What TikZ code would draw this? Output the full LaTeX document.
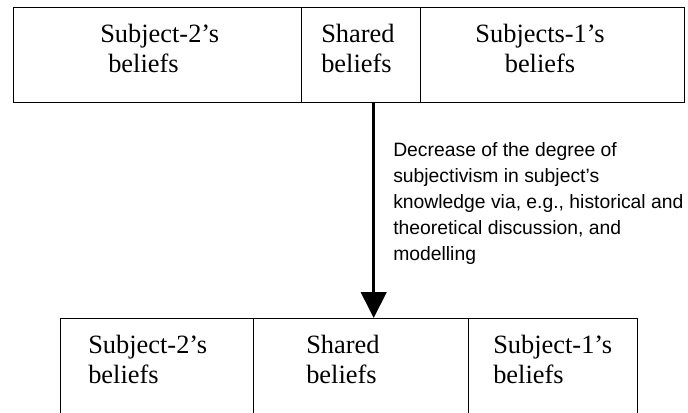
\documentclass[tikz,border=0pt]{standalone}
\usepackage{fontspec}
\setmainfont{Liberation Serif}
\setsansfont{Liberation Sans}
\usetikzlibrary{arrows.meta}
\tikzset{
  box/.style={draw, line width=1pt, anchor=north west, inner sep=0pt},
  boxtext/.style={anchor=base west, align=left, inner sep=0pt,
    font=\fontsize{19.8}{22.5}\selectfont},
  notetext/.style={anchor=base west, align=left, inner sep=0pt,
    font=\sffamily\fontsize{14.5}{19.5}\selectfont},
  flow/.style={line width=2.6pt, -{Triangle[width=19pt,length=19.5pt]}}
}
\begin{document}
\begin{tikzpicture}[x=0.75pt,y=-0.75pt]
\useasboundingbox (0,0) rectangle (688,412);
\clip (0,0) rectangle (688,412);
% Fila de arriba
\node[box, minimum width=216pt, minimum height=71.25pt] (s2a) at (13,7) {};
\node[box, minimum width=89.25pt, minimum height=71.25pt] (sha) at (301,7) {};
\node[box, minimum width=198pt, minimum height=71.25pt] (s1a) at (420,7) {};
\node[boxtext] (s2at) at (100,72) {Subject-2’s\\\hspace{6pt}beliefs};
\node[boxtext] (shat) at (321,72) {Shared\\beliefs};
\node[boxtext, align=center, anchor=base] (s1at) at (540,72) {Subjects-1’s\\beliefs};
% Fila de abajo
\node[box, minimum width=144.75pt, minimum height=84pt] (s2b) at (60,318) {};
\node[box, minimum width=161.25pt, minimum height=84pt] (shb) at (253,318) {};
\node[box, minimum width=126.75pt, minimum height=84pt] (s1b) at (468,318) {};
\node[boxtext] (s2bt) at (88,383) {Subject-2’s\\beliefs};
\node[boxtext] (shbt) at (306,383) {Shared\\beliefs};
\node[boxtext] (s1bt) at (493,383) {Subject-1’s\\beliefs};
% Flecha
\draw[flow] ([xshift=9.4pt]sha.south) -- ([xshift=9.4pt]shb.north);
\node[notetext] (note) at (393,260) {Decrease of the degree of\\subjectivism in subject’s\\knowledge via, e.g., historical and\\theoretical discussion, and\\modelling};
\end{tikzpicture}
\end{document}
